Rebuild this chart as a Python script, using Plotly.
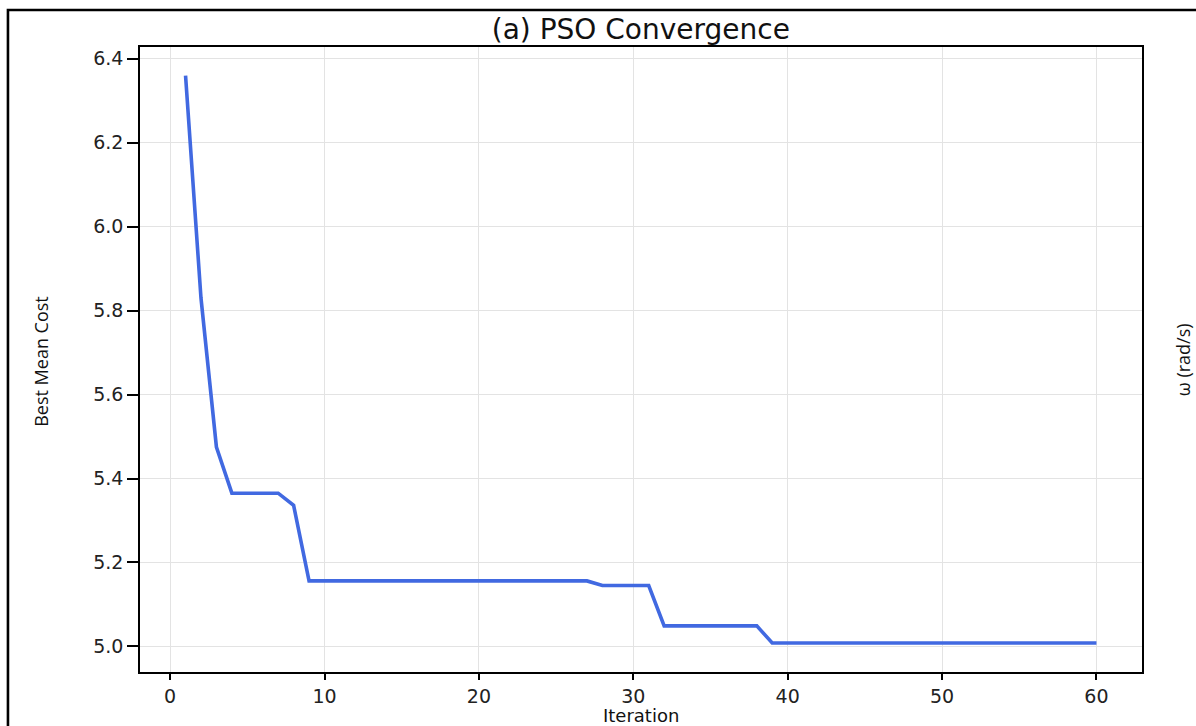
import plotly.graph_objects as go

iterations = list(range(1, 61))
best_cost = ([6.36, 5.83, 5.475]
             + [5.365] * 4
             + [5.336]
             + [5.156] * 19
             + [5.145] * 4
             + [5.049] * 7
             + [5.008] * 22)

x_ticks = [0, 10, 20, 30, 40, 50, 60]
y_ticks = [5.0, 5.2, 5.4, 5.6, 5.8, 6.0, 6.2, 6.4]
y_tick_labels = [f"{v:.1f}" for v in y_ticks]

W, H = 1196, 726
L, R, T, B = 140, 1141.7, 47, 672.3
pw, ph = R - L, B - T

fig = go.Figure()
fig.add_trace(go.Scatter(
    x=iterations, y=best_cost, mode="lines",
    line=dict(color="#4169E1", width=3.6),
    showlegend=False, hoverinfo="skip"))

tick_font = dict(family="DejaVu Sans", size=19, color="#222222")
fig.update_layout(
    width=W, height=H,
    margin=dict(l=L, r=W - R, t=T, b=H - B, pad=0),
    paper_bgcolor="white", plot_bgcolor="white",
    title=dict(text="(a) PSO Convergence", x=(L + R) / 2 / W, xanchor="center",
               y=1 - 29 / H, yanchor="middle",
               font=dict(family="DejaVu Sans", size=28, color="#111111")),
    xaxis=dict(range=[-1.95, 62.95], tickvals=x_ticks, showgrid=True,
               gridcolor="#e3e3e3", gridwidth=1.2, zeroline=False,
               showline=True, linecolor="black", linewidth=1.5, mirror=True,
               ticks="outside", ticklen=6, tickcolor="black", tickwidth=1.5,
               tickfont=tick_font),
    yaxis=dict(range=[4.939, 6.428], tickvals=y_ticks, ticktext=y_tick_labels,
               showgrid=True, gridcolor="#e3e3e3", gridwidth=1.2, zeroline=False,
               showline=True, linecolor="black", linewidth=1.5, mirror=True,
               ticks="outside", ticklen=11, tickcolor="black", tickwidth=1.5,
               tickfont=tick_font),
)

label_font = dict(family="Open Sans", size=18, color="#111111")
fig.add_annotation(text="Best Mean Cost", xref="paper", yref="paper",
                   x=(41 - L) / pw, y=(B - 361) / ph, textangle=-90,
                   showarrow=False, xanchor="center", yanchor="middle", font=label_font)
fig.add_annotation(text="ω (rad/s)", xref="paper", yref="paper",
                   x=(1183 - L) / pw, y=(B - 360) / ph, textangle=-90,
                   showarrow=False, xanchor="center", yanchor="middle", font=label_font)
fig.add_annotation(text="Iteration", xref="paper", yref="paper",
                   x=0.5, y=(B - 715.5) / ph, showarrow=False,
                   xanchor="center", yanchor="middle",
                   font=dict(family="DejaVu Sans", size=18, color="#111111"))

# outer frame of the figure
fig.add_shape(type="rect", xref="paper", yref="paper",
              x0=(8 - L) / pw, x1=(1230 - L) / pw,
              y0=(B - 760) / ph, y1=(B - 10) / ph,
              line=dict(color="black", width=2.6), fillcolor="rgba(0,0,0,0)",
              layer="above")

fig.write_html("out.html")
